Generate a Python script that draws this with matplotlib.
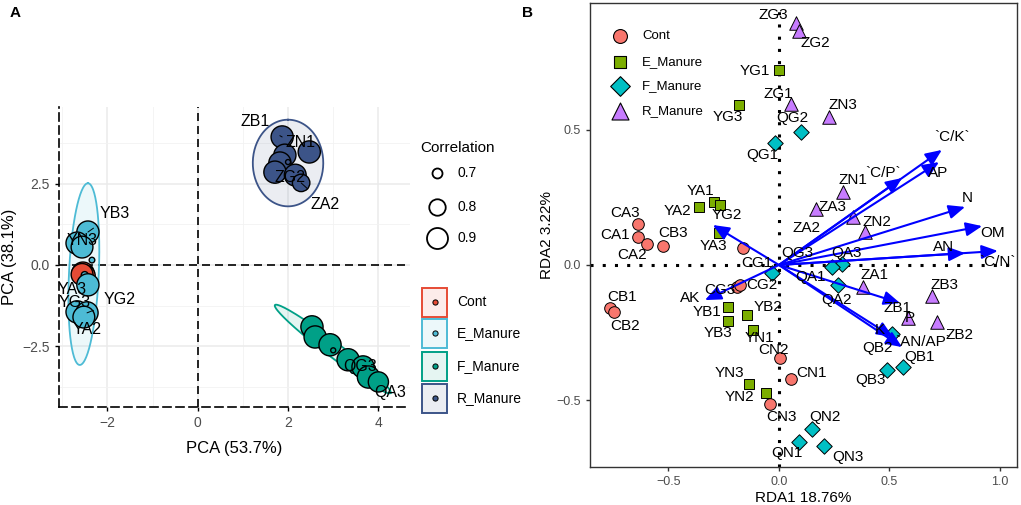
import numpy as np
import matplotlib.pyplot as plt
from matplotlib.patches import Rectangle

plt.rcParams['font.family'] = ['Liberation Sans', 'DejaVu Sans']

# ---------------- Panel A: PCA ----------------
groups = ['Cont', 'E_Manure', 'F_Manure', 'R_Manure']
npg_cols = ['#E64B35', '#4DBBD5', '#00A087', '#3C5488']

cont_a_names = ['CA', 'CB', 'CG']
cont_a_x = [-2.54, -2.51, -2.56]
cont_a_y = [-0.25, -0.33, -0.29]
cont_a_r = [0.93, 0.92, 0.92]

e_a_names = ['YB3', 'YN3', 'YN1', 'YN2', 'YB1', 'YA3', 'YG3', 'YG2', 'YA2']
e_a_x = [-2.43, -2.67, -2.56, -2.34, -2.50, -2.43, -2.67, -2.45, -2.52]
e_a_y = [1.01, 0.67, 0.55, 0.15, -0.31, -0.61, -1.44, -1.47, -1.60]
e_a_r = [0.93, 0.93, 0.92, 0.66, 0.67, 0.93, 0.93, 0.93, 0.92]

f_a_names = ['QB1', 'QB2', 'QN1', 'QN2', 'QG1', 'QG3', 'QA1', 'QA3']
f_a_x = [2.53, 2.60, 2.93, 3.00, 3.33, 3.66, 3.78, 4.00]
f_a_y = [-1.90, -2.21, -2.45, -2.62, -2.91, -3.13, -3.44, -3.59]
f_a_r = [0.93, 0.93, 0.93, 0.65, 0.93, 0.93, 0.93, 0.88]

r_a_names = ['ZB1', 'ZN1', 'ZN2', 'ZB2', 'ZG1', 'ZB3', 'ZG2', 'ZA2']
r_a_x = [1.87, 2.47, 1.93, 1.82, 1.71, 2.00, 2.16, 2.29]
r_a_y = [3.93, 3.47, 3.37, 3.13, 2.85, 3.16, 2.76, 2.52]
r_a_r = [0.93, 0.93, 0.93, 0.93, 0.93, 0.65, 0.92, 0.82]

# ellipses: centre, major half-axis vector, minor half-axis vector
ell_centre = [(-2.53, -0.29), (-2.52, -0.28), (2.99, -2.58), (2.00, 3.13)]
ell_major = [(0.02, 0.25), (0.09, 2.79), (1.28, -1.35), (0.0, 1.33)]
ell_minor = [(0.12, 0.0), (0.33, 0.0), (0.10, 0.18), (0.78, 0.0)]

corr_levels = [0.7, 0.8, 0.9]

# ---------------- Panel B: RDA ----------------
cont_b_names = ['CA3', 'CA1', 'CA2', 'CB3', 'CB1', 'CB2', 'CG3', 'CG2', 'CG1', 'CN2', 'CN1', 'CN3']
cont_b_x = [-0.638, -0.638, -0.597, -0.525, -0.765, -0.747, -0.190, -0.176, -0.163, 0.005, 0.054, -0.041]
cont_b_y = [0.152, 0.104, 0.078, 0.070, -0.159, -0.174, -0.081, -0.074, 0.063, -0.344, -0.422, -0.515]

e_b_names = ['YG1', 'YG3', 'YA1', 'YA2', 'YG2', 'YA3', 'YB1', 'YB3', 'YB2', 'YN1', 'YN3', 'YN2']
e_b_x = [0.0, -0.181, -0.294, -0.362, -0.267, -0.271, -0.231, -0.231, -0.145, -0.118, -0.136, -0.059]
e_b_y = [0.722, 0.593, 0.233, 0.215, 0.222, 0.119, -0.156, -0.207, -0.185, -0.241, -0.441, -0.474]

f_b_names = ['QG1', 'QG2', 'QG3', 'QA3', 'QA1', 'QA2', 'QB2', 'QB1', 'QB3', 'QN2', 'QN1', 'QN3']
f_b_x = [-0.018, 0.100, -0.032, 0.285, 0.240, 0.267, 0.511, 0.561, 0.489, 0.149, 0.090, 0.204]
f_b_y = [0.452, 0.493, -0.030, 0.004, -0.007, -0.074, -0.256, -0.378, -0.389, -0.607, -0.656, -0.670]

r_b_names = ['ZG3', 'ZG2', 'ZG1', 'ZN3', 'ZN1', 'ZA2', 'ZA3', 'ZN2', 'ZA1', 'ZB3', 'ZB1', 'ZB2']
r_b_x = [0.077, 0.090, 0.054, 0.226, 0.290, 0.167, 0.335, 0.389, 0.380, 0.692, 0.584, 0.715]
r_b_y = [0.896, 0.867, 0.596, 0.548, 0.270, 0.207, 0.178, 0.122, -0.081, -0.115, -0.196, -0.211]

env_names = ['`C/K`', 'AP', '`C/P`', 'N', 'OM', 'AN', '`C/N`', 'P', 'K', '`AN/AP`', 'AK', '']
env_x = [0.737, 0.724, 0.557, 0.842, 0.919, 0.842, 0.990, 0.548, 0.516, 0.557, -0.335, -0.299]
env_y = [0.426, 0.381, 0.322, 0.215, 0.144, 0.044, 0.052, -0.141, -0.267, -0.304, -0.130, 0.148]

hue_cols = ['#F8766D', '#7CAE00', '#00BFC4', '#C77CFF']
b_markers = ['o', 's', 'D', '^']

# label offsets (pixels, x right / y up)
off_a = {'YB3': (27, 19, True), 'YN3': (5, 3, False), 'YA3': (-16, -5, False),
         'YG3': (-2, 9, False), 'YG2': (33, 13, True), 'YA2': (3, -12, False),
         'ZB1': (-27, 15, True), 'ZN1': (-9, 9, False), 'ZG2': (-5, -2, False),
         'ZA2': (24, -22, True), 'QG3': (-3, 0, False), 'QA3': (12, -11, False)}

off_b = {'CA3': (-13, 11), 'CA1': (-23, 2), 'CA2': (-15, -11), 'CB3': (10, 13),
         'CB1': (12, 11), 'CB2': (11, -14), 'CG3': (-17, -3), 'CG2': (22, 0),
         'CG1': (14, -15), 'CN2': (-7, 8), 'CN1': (21, 6), 'CN3': (12, -13),
         'YG1': (-24, -1), 'YG3': (-11, -12), 'YA1': (-14, 11), 'YA2': (-21, -4),
         'YG2': (7, -10), 'YA3': (-6, -13), 'YB1': (-21, -5), 'YB2': (21, 8),
         'YB3': (-10, -12), 'YN1': (7, -8), 'YN3': (-19, 11), 'YN2': (-26, -4),
         'QG1': (-13, -12), 'QG2': (-9, 14), 'QG3': (25, 20), 'QA3': (5, 11),
         'QA1': (-22, -10), 'QA2': (-1, -15), 'QB2': (-14, -14), 'QB1': (17, 10),
         'QB3': (-17, -10), 'QN2': (13, 12), 'QN1': (-12, -11), 'QN3': (24, -11),
         'ZG3': (-23, 8), 'ZG2': (16, -12), 'ZG1': (-13, 10), 'ZN3': (14, 12),
         'ZN1': (10, 12), 'ZA2': (-9, -19), 'ZA3': (-21, 10), 'ZN2': (12, 10),
         'ZA1': (12, 12), 'ZB3': (13, 11), 'ZB1': (-11, 10), 'ZB2': (23, -13)}

off_env = {'`C/K`': (10, 13), 'AP': (-1, -11), '`C/P`': (-19, 5), 'N': (2, 9),
           'OM': (10, -7), 'AN': (-22, 6), '`C/N`': (0, -11), 'P': (10, -15),
           'K': (-13, 7), '`AN/AP`': (21, 5), 'AK': (-15, 2), '': (0, 0)}


def corr_size(c):
    # marker area in pt^2 from correlation (area linear in value)
    d_px = np.sqrt(np.maximum(100 + 1705 * (np.asarray(c) - 0.7), 25))
    return (d_px * 0.72) ** 2


fig = plt.figure(figsize=(10.21, 5.05), dpi=100)

# ---------- A ----------
axA = fig.add_axes([59 / 1021, 1 - 407 / 505, 351 / 1021, 300 / 505])
axA.set_xlim(-3.07, 4.70)
axA.set_ylim(-4.36, 4.85)
axA.set_xticks([-2, 0, 2, 4])
axA.set_xticklabels(['\u22122', '0', '2', '4'])
axA.set_xticks([-3, -1, 1, 3], minor=True)
axA.set_yticks([-2.5, 0, 2.5])
axA.set_yticklabels(['\u22122.5', '0.0', '2.5'])
axA.set_yticks([-3.75, -1.25, 1.25, 3.75], minor=True)
axA.grid(which='major', color='#EBEBEB', lw=1.1)
axA.grid(which='minor', color='#F2F2F2', lw=0.6)
axA.set_axisbelow(True)
dash = (0, (4.8, 3))
for s in ['top', 'right']:
    axA.spines[s].set_visible(False)
for s in ['left', 'bottom']:
    axA.spines[s].set_linestyle(dash)
    axA.spines[s].set_linewidth(1.2)
axA.tick_params(which='major', length=3, width=1, color='black',
                labelcolor='#4D4D4D', labelsize=10)
axA.tick_params(which='minor', length=0)
axA.axhline(0, color='black', ls=dash, lw=1.2, zorder=1)
axA.axvline(0, color='black', ls=dash, lw=1.2, zorder=1)
axA.set_xlabel('PCA (53.7%)', fontsize=12, labelpad=8)
axA.set_ylabel('PCA (38.1%)', fontsize=12)

t = np.linspace(0, 2 * np.pi, 200)
for c, mj, mn, col in zip(ell_centre, ell_major, ell_minor, npg_cols):
    ex = c[0] + mj[0] * np.cos(t) + mn[0] * np.sin(t)
    ey = c[1] + mj[1] * np.cos(t) + mn[1] * np.sin(t)
    axA.fill(ex, ey, color=col, alpha=0.1, lw=0, zorder=2)
    axA.plot(ex, ey, color=col, lw=1.3, zorder=2)

a_sets = [(cont_a_names, cont_a_x, cont_a_y, cont_a_r),
          (e_a_names, e_a_x, e_a_y, e_a_r),
          (f_a_names, f_a_x, f_a_y, f_a_r),
          (r_a_names, r_a_x, r_a_y, r_a_r)]
for (names, xs, ys, rs), col in zip(a_sets, npg_cols):
    axA.scatter(xs, ys, s=corr_size(rs), color=col, edgecolor='black',
                lw=1.0, zorder=3)
    for n, x, y in zip(names, xs, ys):
        if n in off_a:
            dx, dy, seg = off_a[n]
            props = dict(arrowstyle='-', lw=0.7, color='black',
                         shrinkA=6, shrinkB=0) if seg else None
            axA.annotate(n, (x, y), xytext=(dx, dy), textcoords='offset pixels',
                         ha='center', va='center', fontsize=11.5, zorder=4,
                         arrowprops=props)

# ---------- B ----------
axB = fig.add_axes([590 / 1021, 1 - 467 / 505, 427 / 1021, 464 / 505])
axB.set_xlim(-0.855, 1.077)
axB.set_ylim(-0.748, 0.970)
axB.set_xticks([-0.5, 0, 0.5, 1.0])
axB.set_xticklabels(['\u22120.5', '0.0', '0.5', '1.0'])
axB.set_yticks([-0.5, 0, 0.5])
axB.set_yticklabels(['\u22120.5', '0.0', '0.5'])
for s in axB.spines.values():
    s.set_color('#333333')
    s.set_linewidth(1.0)
axB.tick_params(length=3, width=1, color='#333333', labelcolor='#4D4D4D',
                labelsize=9)
dots = (0, (1, 3))
axB.axhline(0, color='black', ls=dots, lw=2.2, zorder=1)
axB.axvline(0, color='black', ls=dots, lw=2.2, zorder=1)
axB.set_xlabel('RDA1 18.76%', fontsize=11, labelpad=2)
axB.set_ylabel('RDA2 3.22%', fontsize=11, labelpad=2)

b_sets = [(cont_b_names, cont_b_x, cont_b_y),
          (e_b_names, e_b_x, e_b_y),
          (f_b_names, f_b_x, f_b_y),
          (r_b_names, r_b_x, r_b_y)]
b_sizes = [70, 60, 62, 95]
for (names, xs, ys), col, mk, sz in zip(b_sets, hue_cols, b_markers, b_sizes):
    axB.scatter(xs, ys, s=sz, marker=mk, color=col, edgecolor='black',
                lw=0.7, zorder=3)
    for n, x, y in zip(names, xs, ys):
        dx, dy = off_b[n]
        axB.annotate(n, (x, y), xytext=(dx, dy), textcoords='offset pixels',
                     ha='center', va='center', fontsize=11, zorder=5)

for n, x, y in zip(env_names, env_x, env_y):
    axB.annotate('', xy=(x, y), xytext=(0, 0), zorder=4,
                 arrowprops=dict(arrowstyle='-|>,head_length=0.7,head_width=0.3',
                                 color='#0000FF', lw=1.5, shrinkA=0, shrinkB=0,
                                 mutation_scale=14))
    if n:
        dx, dy = off_env[n]
        axB.annotate(n, (x, y), xytext=(dx, dy), textcoords='offset pixels',
                     ha='center', va='center', fontsize=11, zorder=5)

# ---------- legends and panel letters (overlay in pixel units) ----------
ov = fig.add_axes([0, 0, 1, 1], facecolor='none')
ov.set_xlim(0, 1021)
ov.set_ylim(505, 0)
ov.axis('off')

ov.text(15, 13, 'A', fontsize=11, fontweight='bold', ha='center', va='center')
ov.text(527, 13, 'B', fontsize=11, fontweight='bold', ha='center', va='center')

ov.text(420, 148, 'Correlation', fontsize=11, ha='left', va='center')
for lv, yy in zip(corr_levels, [173, 207, 238]):
    ov.scatter([437], [yy], s=corr_size([lv]), facecolor='white',
               edgecolor='black', lw=1.3)
    ov.text(457, yy, str(lv), fontsize=10, ha='left', va='center')

for g, col, yy in zip(groups, npg_cols, [302, 333, 366, 398]):
    ov.add_patch(Rectangle((422, yy - 14.5), 25, 29, facecolor=col, alpha=0.1,
                           edgecolor='none'))
    ov.add_patch(Rectangle((422, yy - 14.5), 25, 29, facecolor='none',
                           edgecolor=col, lw=1.4))
    ov.scatter([434.5], [yy], s=14, color=col, edgecolor='black', lw=0.7)
    ov.text(457, yy, g, fontsize=10, ha='left', va='center')

for g, col, mk, yy, sz in zip(groups, hue_cols, b_markers, [36, 62, 86, 111],
                              [100, 80, 100, 150]):
    ov.scatter([620], [yy], s=sz, marker=mk, color=col, edgecolor='black', lw=0.8)
    ov.text(642, yy, g, fontsize=9.5, ha='left', va='center')

plt.savefig('out.png', dpi=100)
